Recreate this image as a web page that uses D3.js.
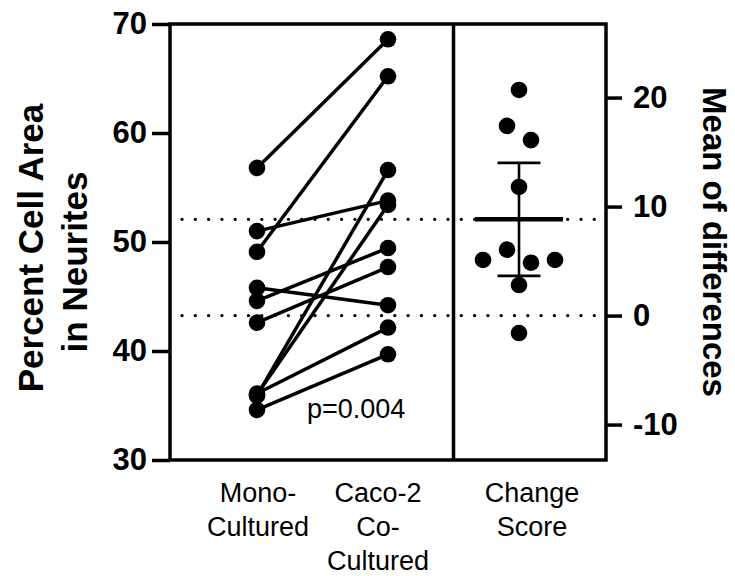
<!DOCTYPE html>
<html>
<head>
<meta charset="utf-8">
<script src="https://cdn.jsdelivr.net/npm/d3@7"></script>
<style>
  body { margin: 0; background: #fff; }
  text { font-family: "Liberation Sans", Arial, sans-serif; fill: #000; }
  .tick-label { font-size: 31px; font-weight: bold; }
  .axis-title { font-size: 35px; font-weight: bold; }
  .axis-title.right { font-size: 33px; }
  .cat-label { font-size: 27px; }
  .p-label { font-size: 27px; }
  .frame { stroke: #000; stroke-width: 3.5; fill: none; }
</style>
</head>
<body>
<script>

/**********************
 ***      Data      ***
 **********************/

const CATEGORIES = ['Mono-Cultured', 'Caco-2 Co-Cultured', 'Change Score'];
const CATEGORY_LINES = [['Mono-', 'Cultured'], ['Caco-2', 'Co-', 'Cultured'], ['Change', 'Score']];

// paired samples, same order in both arrays
const MONO_VALUES = [56.8, 36.0, 49.1, 35.9, 51.0, 45.8, 34.6, 36.1, 44.6, 42.6];
const COCULTURE_VALUES = [68.6, 53.4, 65.2, 56.6, 53.8, 44.2, 39.7, 42.15, 49.45, 47.7];

const LEFT_TICKS = [30, 40, 50, 60, 70];
const RIGHT_TICKS = [-10, 0, 10, 20];
const LEFT_DOMAIN = [30, 70];

const P_VALUE_LABEL = 'p=0.004';
const LEFT_TITLE = ['Percent Cell Area', 'in Neurites'];
const RIGHT_TITLE = 'Mean of differences';

// t critical value, df = 9, for the 95% CI of the mean difference
const T_CRIT = 2.262;

/**********************
 ***    Constants   ***
 **********************/

const SCREEN = {
    width: 735,
    height: 576,
    left: 170,
    right: 606,
    top: 24,
    bottom: 460,
    dotRadius: 8.3,
    swarmStep: 24
};

const svg = d3.select('body').append('svg')
    .attr('width', SCREEN.width)
    .attr('height', SCREEN.height);

/*********************
 *      Scales       *
 *********************/

const diffs = COCULTURE_VALUES.map((v, i) => v - MONO_VALUES[i]);
const monoMean = d3.mean(MONO_VALUES);
const meanDiff = d3.mean(diffs);
const halfCI = T_CRIT * d3.deviation(diffs) / Math.sqrt(diffs.length);

const yScale = d3.scaleLinear()
    .domain(LEFT_DOMAIN)
    .range([SCREEN.bottom, SCREEN.top]);

// right axis shares pixels with the left one, zero at the mono mean
const yRight = d3.scaleLinear()
    .domain(LEFT_DOMAIN.map(d => d - monoMean))
    .range([SCREEN.bottom, SCREEN.top]);

const xScale = d3.scalePoint()
    .domain(CATEGORIES)
    .range([SCREEN.left, SCREEN.right])
    .padding(0.664);

const xMono = xScale(CATEGORIES[0]),
      xCaco = xScale(CATEGORIES[1]),
      xChange = xScale(CATEGORIES[2]);
const xDivider = (xCaco + xChange) / 2;

// simple symmetric swarm: points closer than a dot are spread side by side
const swarmOffsets = (values, scale, minGap, step) => {
    const order = d3.range(values.length).sort((a, b) => values[b] - values[a]);
    const offsets = values.map(() => 0);
    let cluster = [order[0]];
    const flush = () => {
        const sorted = cluster.slice().sort((a, b) => a - b);
        sorted.forEach((idx, k) => offsets[idx] = (k - (sorted.length - 1) / 2) * step);
    };
    for (let k = 1; k < order.length; k++) {
        const prev = order[k - 1], cur = order[k];
        if (Math.abs(scale(values[cur]) - scale(values[prev])) < minGap) cluster.push(cur);
        else { flush(); cluster = [cur]; }
    }
    flush();
    return offsets;
};

const offsets = swarmOffsets(diffs, yRight, SCREEN.dotRadius * 2 + 1, SCREEN.swarmStep);

/*********************
 *   Dotted guides   *
 *********************/

const guides = svg.append('g').attr('class', 'guides');
[monoMean, monoMean + meanDiff].forEach(v => {
    guides.append('line')
        .attr('x1', SCREEN.left + 12)
        .attr('x2', SCREEN.right - 2)
        .attr('y1', yScale(v))
        .attr('y2', yScale(v))
        .attr('stroke', '#000')
        .attr('stroke-width', 3.4)
        .attr('stroke-linecap', 'round')
        .attr('stroke-dasharray', '0,13.3');
});

/*********************
 *   Paired panel    *
 *********************/

const pairs = MONO_VALUES.map((m, i) => ({ mono: m, caco: COCULTURE_VALUES[i] }));

svg.append('g').attr('class', 'pair-lines')
    .selectAll('line')
    .data(pairs)
    .enter().append('line')
        .attr('x1', xMono)
        .attr('y1', d => yScale(d.mono))
        .attr('x2', xCaco)
        .attr('y2', d => yScale(d.caco))
        .attr('stroke', '#000')
        .attr('stroke-width', 3.5);

const dots = svg.append('g').attr('class', 'dots');
dots.selectAll('.mono')
    .data(MONO_VALUES)
    .enter().append('circle')
        .attr('class', 'mono')
        .attr('cx', xMono)
        .attr('cy', d => yScale(d))
        .attr('r', SCREEN.dotRadius);

dots.selectAll('.caco')
    .data(COCULTURE_VALUES)
    .enter().append('circle')
        .attr('class', 'caco')
        .attr('cx', xCaco)
        .attr('cy', d => yScale(d))
        .attr('r', SCREEN.dotRadius);

svg.append('text')
    .attr('class', 'p-label')
    .attr('x', xCaco - 81)
    .attr('y', 418)
    .text(P_VALUE_LABEL);

/*********************
 *   Change panel    *
 *********************/

const change = svg.append('g').attr('class', 'change');

change.append('line')
    .attr('x1', xChange).attr('x2', xChange)
    .attr('y1', yRight(meanDiff + halfCI))
    .attr('y2', yRight(meanDiff - halfCI))
    .attr('stroke', '#000').attr('stroke-width', 2.6);

[meanDiff + halfCI, meanDiff - halfCI].forEach(v => {
    change.append('line')
        .attr('x1', xChange - 21.5).attr('x2', xChange + 21.5)
        .attr('y1', yRight(v)).attr('y2', yRight(v))
        .attr('stroke', '#000').attr('stroke-width', 2.8);
});

change.append('line')
    .attr('x1', xChange - 44).attr('x2', xChange + 44)
    .attr('y1', yRight(meanDiff)).attr('y2', yRight(meanDiff))
    .attr('stroke', '#000').attr('stroke-width', 4.5);

change.selectAll('circle')
    .data(diffs)
    .enter().append('circle')
        .attr('cx', (d, i) => xChange + offsets[i])
        .attr('cy', d => yRight(d))
        .attr('r', SCREEN.dotRadius);

/*********************
 *   Frame & axes    *
 *********************/

svg.append('rect')
    .attr('class', 'frame')
    .attr('x', SCREEN.left)
    .attr('y', SCREEN.top)
    .attr('width', SCREEN.right - SCREEN.left)
    .attr('height', SCREEN.bottom - SCREEN.top);

svg.append('line')
    .attr('class', 'frame')
    .attr('x1', xDivider).attr('x2', xDivider)
    .attr('y1', SCREEN.top).attr('y2', SCREEN.bottom);

const styleAxis = g => {
    g.attr('font-size', null).attr('font-family', null);
    g.select('.domain').remove();
    g.selectAll('.tick line').attr('stroke', '#000').attr('stroke-width', 3.5);
    g.selectAll('.tick text').attr('class', 'tick-label').attr('fill', '#000');
};

svg.append('g')
    .attr('transform', `translate(${SCREEN.left},0)`)
    .call(d3.axisLeft(yScale).tickValues(LEFT_TICKS).tickSize(18).tickPadding(5))
    .call(styleAxis);

svg.append('g')
    .attr('transform', `translate(${SCREEN.right},0)`)
    .call(d3.axisRight(yRight).tickValues(RIGHT_TICKS).tickSize(16).tickPadding(11)
            .tickFormat(d => String(d)))
    .call(styleAxis);

// category labels
const catDx = [1, -10, 13];
CATEGORIES.forEach((cat, i) => {
    CATEGORY_LINES[i].forEach((line, j) => {
        svg.append('text')
            .attr('class', 'cat-label')
            .attr('text-anchor', 'middle')
            .attr('x', xScale(cat) + catDx[i])
            .attr('y', 502 + j * 34)
            .text(line);
    });
});

// axis titles
svg.append('text')
    .attr('class', 'axis-title')
    .attr('text-anchor', 'middle')
    .attr('transform', 'translate(43,248) rotate(-90)')
    .text(LEFT_TITLE[0]);
svg.append('text')
    .attr('class', 'axis-title')
    .attr('text-anchor', 'middle')
    .attr('transform', 'translate(87,262) rotate(-90)')
    .text(LEFT_TITLE[1]);
svg.append('text')
    .attr('class', 'axis-title right')
    .attr('text-anchor', 'middle')
    .attr('transform', 'translate(703,242) rotate(90)')
    .text(RIGHT_TITLE);

</script>
</body>
</html>
